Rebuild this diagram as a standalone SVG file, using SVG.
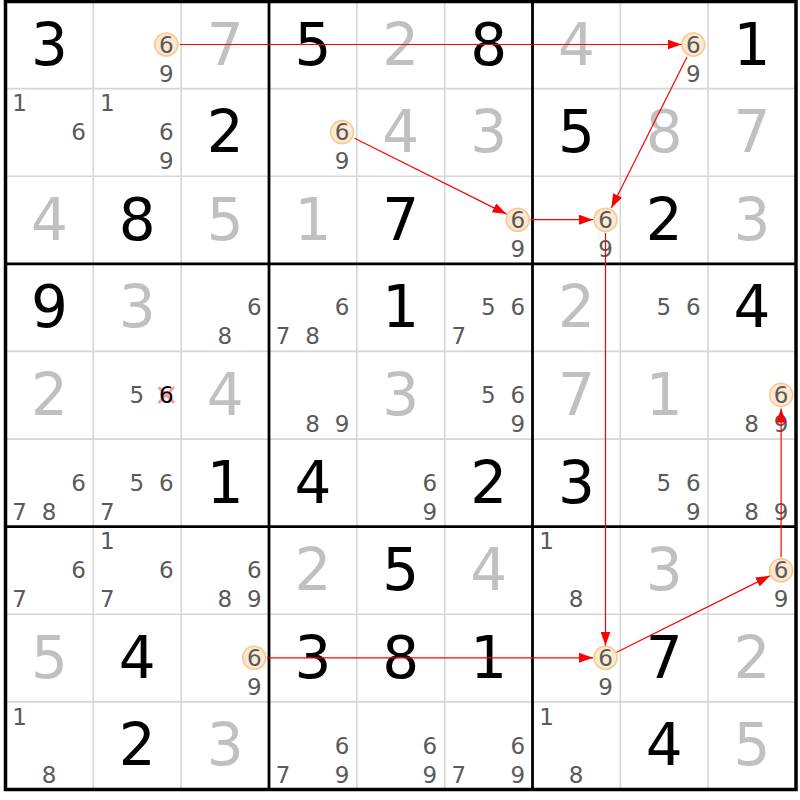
<svg xmlns="http://www.w3.org/2000/svg" width="800" height="800" viewBox="0 0 800 800">
<defs>
<style>
text{font-family:"DejaVu Sans","Liberation Sans",sans-serif;text-anchor:middle}
.g{font-size:58px;fill:#000}
.s{font-size:58px;fill:#c0c0c0}
.c{font-size:23px;fill:#5a5a5a}
.x{font-size:23px;fill:#000}
.hl{fill:#fde9cf;stroke:#f8c98e;stroke-width:1.6}
.thin{stroke:#d6d6d6;stroke-width:1.6}
.thick{stroke:#000;stroke-width:2.8}
.lk{stroke:#ff0000;stroke-width:1.2;fill:none;marker-end:url(#ah)}
.cross{stroke:#ff9aaa;stroke-width:3;stroke-linecap:round}
</style>
<marker id="ah" markerUnits="userSpaceOnUse" markerWidth="14" markerHeight="10" refX="14" refY="5" orient="auto">
<path d="M0,0 L14,5 L0,10 z" fill="#ff0000"/>
</marker>
</defs>
<rect x="0" y="0" width="800" height="800" fill="#fff"/>
<g id="grid">
<line class="thin" x1="93.3" y1="1" x2="93.3" y2="789.5"/>
<line class="thin" x1="181.2" y1="1" x2="181.2" y2="789.5"/>
<line class="thin" x1="356.8" y1="1" x2="356.8" y2="789.5"/>
<line class="thin" x1="444.7" y1="1" x2="444.7" y2="789.5"/>
<line class="thin" x1="620.3" y1="1" x2="620.3" y2="789.5"/>
<line class="thin" x1="708.1" y1="1" x2="708.1" y2="789.5"/>
<line class="thin" x1="5.5" y1="88.6" x2="796" y2="88.6"/>
<line class="thin" x1="5.5" y1="176.2" x2="796" y2="176.2"/>
<line class="thin" x1="5.5" y1="351.4" x2="796" y2="351.4"/>
<line class="thin" x1="5.5" y1="439.1" x2="796" y2="439.1"/>
<line class="thin" x1="5.5" y1="614.3" x2="796" y2="614.3"/>
<line class="thin" x1="5.5" y1="701.9" x2="796" y2="701.9"/>
<line class="thick" x1="269" y1="1" x2="269" y2="789.5"/>
<line class="thick" x1="532.5" y1="1" x2="532.5" y2="789.5"/>
<line class="thick" x1="5.5" y1="263.8" x2="796" y2="263.8"/>
<line class="thick" x1="5.5" y1="526.7" x2="796" y2="526.7"/>
<rect x="5.5" y="1.5" width="790.5" height="788" fill="none" stroke="#000" stroke-width="3.5"/>
</g>
<g id="r0">
<g id="r0c0"><text class="g" x="49.4" y="64.5">3</text></g>
<g id="r0c1"><circle class="hl" cx="166.3" cy="44.5" r="11.5"/><text class="c" x="166.3" y="52.6">6</text><text class="c" x="166.3" y="81.6">9</text></g>
<g id="r0c2"><text class="s" x="225.1" y="64.5">7</text></g>
<g id="r0c3"><text class="g" x="312.9" y="64.5">5</text></g>
<g id="r0c4"><text class="s" x="400.7" y="64.5">2</text></g>
<g id="r0c5"><text class="g" x="488.6" y="64.5">8</text></g>
<g id="r0c6"><text class="s" x="576.4" y="64.5">4</text></g>
<g id="r0c7"><circle class="hl" cx="693.3" cy="44.5" r="11.5"/><text class="c" x="693.3" y="52.6">6</text><text class="c" x="693.3" y="81.6">9</text></g>
<g id="r0c8"><text class="g" x="752" y="64.5">1</text></g>
</g>
<g id="r1">
<g id="r1c0"><text class="c" x="19.5" y="111.2">1</text><text class="c" x="78.5" y="140.2">6</text></g>
<g id="r1c1"><text class="c" x="107.3" y="111.2">1</text><text class="c" x="166.3" y="140.2">6</text><text class="c" x="166.3" y="169.2">9</text></g>
<g id="r1c2"><text class="g" x="225.1" y="152.1">2</text></g>
<g id="r1c3"><circle class="hl" cx="342" cy="132.1" r="11.5"/><text class="c" x="342" y="140.2">6</text><text class="c" x="342" y="169.2">9</text></g>
<g id="r1c4"><text class="s" x="400.7" y="152.1">4</text></g>
<g id="r1c5"><text class="s" x="488.6" y="152.1">3</text></g>
<g id="r1c6"><text class="g" x="576.4" y="152.1">5</text></g>
<g id="r1c7"><text class="s" x="664.2" y="152.1">8</text></g>
<g id="r1c8"><text class="s" x="752" y="152.1">7</text></g>
</g>
<g id="r2">
<g id="r2c0"><text class="s" x="49.4" y="239.7">4</text></g>
<g id="r2c1"><text class="g" x="137.2" y="239.7">8</text></g>
<g id="r2c2"><text class="s" x="225.1" y="239.7">5</text></g>
<g id="r2c3"><text class="s" x="312.9" y="239.7">1</text></g>
<g id="r2c4"><text class="g" x="400.7" y="239.7">7</text></g>
<g id="r2c5"><circle class="hl" cx="517.7" cy="219.7" r="11.5"/><text class="c" x="517.7" y="227.8">6</text><text class="c" x="517.7" y="256.8">9</text></g>
<g id="r2c6"><circle class="hl" cx="605.5" cy="219.7" r="11.5"/><text class="c" x="605.5" y="227.8">6</text><text class="c" x="605.5" y="256.8">9</text></g>
<g id="r2c7"><text class="g" x="664.2" y="239.7">2</text></g>
<g id="r2c8"><text class="s" x="752" y="239.7">3</text></g>
</g>
<g id="r3">
<g id="r3c0"><text class="g" x="49.4" y="327.3">9</text></g>
<g id="r3c1"><text class="s" x="137.2" y="327.3">3</text></g>
<g id="r3c2"><text class="c" x="254.2" y="315.4">6</text><text class="c" x="224.7" y="344.4">8</text></g>
<g id="r3c3"><text class="c" x="342" y="315.4">6</text><text class="c" x="283" y="344.4">7</text><text class="c" x="312.5" y="344.4">8</text></g>
<g id="r3c4"><text class="g" x="400.7" y="327.3">1</text></g>
<g id="r3c5"><text class="c" x="488.2" y="315.4">5</text><text class="c" x="517.7" y="315.4">6</text><text class="c" x="458.7" y="344.4">7</text></g>
<g id="r3c6"><text class="s" x="576.4" y="327.3">2</text></g>
<g id="r3c7"><text class="c" x="663.8" y="315.4">5</text><text class="c" x="693.3" y="315.4">6</text></g>
<g id="r3c8"><text class="g" x="752" y="327.3">4</text></g>
</g>
<g id="r4">
<g id="r4c0"><text class="s" x="49.4" y="414.9">2</text></g>
<g id="r4c1"><text class="c" x="136.8" y="403">5</text><line class="cross" x1="159.3" y1="388" x2="173.3" y2="402"/><line class="cross" x1="173.3" y1="388" x2="159.3" y2="402"/><text class="x" x="166.3" y="403">6</text></g>
<g id="r4c2"><text class="s" x="225.1" y="414.9">4</text></g>
<g id="r4c3"><text class="c" x="312.5" y="432">8</text><text class="c" x="342" y="432">9</text></g>
<g id="r4c4"><text class="s" x="400.7" y="414.9">3</text></g>
<g id="r4c5"><text class="c" x="488.2" y="403">5</text><text class="c" x="517.7" y="403">6</text><text class="c" x="517.7" y="432">9</text></g>
<g id="r4c6"><text class="s" x="576.4" y="414.9">7</text></g>
<g id="r4c7"><text class="s" x="664.2" y="414.9">1</text></g>
<g id="r4c8"><circle class="hl" cx="781.1" cy="394.9" r="11.5"/><text class="c" x="781.1" y="403">6</text><text class="c" x="751.6" y="432">8</text><text class="c" x="781.1" y="432">9</text></g>
</g>
<g id="r5">
<g id="r5c0"><text class="c" x="78.5" y="490.7">6</text><text class="c" x="19.5" y="519.7">7</text><text class="c" x="49" y="519.7">8</text></g>
<g id="r5c1"><text class="c" x="136.8" y="490.7">5</text><text class="c" x="166.3" y="490.7">6</text><text class="c" x="107.3" y="519.7">7</text></g>
<g id="r5c2"><text class="g" x="225.1" y="502.6">1</text></g>
<g id="r5c3"><text class="g" x="312.9" y="502.6">4</text></g>
<g id="r5c4"><text class="c" x="429.8" y="490.7">6</text><text class="c" x="429.8" y="519.7">9</text></g>
<g id="r5c5"><text class="g" x="488.6" y="502.6">2</text></g>
<g id="r5c6"><text class="g" x="576.4" y="502.6">3</text></g>
<g id="r5c7"><text class="c" x="663.8" y="490.7">5</text><text class="c" x="693.3" y="490.7">6</text><text class="c" x="693.3" y="519.7">9</text></g>
<g id="r5c8"><text class="c" x="751.6" y="519.7">8</text><text class="c" x="781.1" y="519.7">9</text></g>
</g>
<g id="r6">
<g id="r6c0"><text class="c" x="78.5" y="578.3">6</text><text class="c" x="19.5" y="607.3">7</text></g>
<g id="r6c1"><text class="c" x="107.3" y="549.3">1</text><text class="c" x="166.3" y="578.3">6</text><text class="c" x="107.3" y="607.3">7</text></g>
<g id="r6c2"><text class="c" x="254.2" y="578.3">6</text><text class="c" x="224.7" y="607.3">8</text><text class="c" x="254.2" y="607.3">9</text></g>
<g id="r6c3"><text class="s" x="312.9" y="590.2">2</text></g>
<g id="r6c4"><text class="g" x="400.7" y="590.2">5</text></g>
<g id="r6c5"><text class="s" x="488.6" y="590.2">4</text></g>
<g id="r6c6"><text class="c" x="546.5" y="549.3">1</text><text class="c" x="576" y="607.3">8</text></g>
<g id="r6c7"><text class="s" x="664.2" y="590.2">3</text></g>
<g id="r6c8"><circle class="hl" cx="781.1" cy="570.2" r="11.5"/><text class="c" x="781.1" y="578.3">6</text><text class="c" x="781.1" y="607.3">9</text></g>
</g>
<g id="r7">
<g id="r7c0"><text class="s" x="49.4" y="677.8">5</text></g>
<g id="r7c1"><text class="g" x="137.2" y="677.8">4</text></g>
<g id="r7c2"><circle class="hl" cx="254.2" cy="657.8" r="11.5"/><text class="c" x="254.2" y="665.9">6</text><text class="c" x="254.2" y="694.9">9</text></g>
<g id="r7c3"><text class="g" x="312.9" y="677.8">3</text></g>
<g id="r7c4"><text class="g" x="400.7" y="677.8">8</text></g>
<g id="r7c5"><text class="g" x="488.6" y="677.8">1</text></g>
<g id="r7c6"><circle class="hl" cx="605.5" cy="657.8" r="11.5"/><text class="c" x="605.5" y="665.9">6</text><text class="c" x="605.5" y="694.9">9</text></g>
<g id="r7c7"><text class="g" x="664.2" y="677.8">7</text></g>
<g id="r7c8"><text class="s" x="752" y="677.8">2</text></g>
</g>
<g id="r8">
<g id="r8c0"><text class="c" x="19.5" y="724.5">1</text><text class="c" x="49" y="782.5">8</text></g>
<g id="r8c1"><text class="g" x="137.2" y="765.4">2</text></g>
<g id="r8c2"><text class="s" x="225.1" y="765.4">3</text></g>
<g id="r8c3"><text class="c" x="342" y="753.5">6</text><text class="c" x="283" y="782.5">7</text><text class="c" x="342" y="782.5">9</text></g>
<g id="r8c4"><text class="c" x="429.8" y="753.5">6</text><text class="c" x="429.8" y="782.5">9</text></g>
<g id="r8c5"><text class="c" x="517.7" y="753.5">6</text><text class="c" x="458.7" y="782.5">7</text><text class="c" x="517.7" y="782.5">9</text></g>
<g id="r8c6"><text class="c" x="546.5" y="724.5">1</text><text class="c" x="576" y="782.5">8</text></g>
<g id="r8c7"><text class="g" x="664.2" y="765.4">4</text></g>
<g id="r8c8"><text class="s" x="752" y="765.4">5</text></g>
</g>
<g id="links">
<line class="lk" x1="180" y1="44.5" x2="681.5" y2="44.5"/>
<line class="lk" x1="687" y1="57" x2="611.3" y2="208"/>
<line class="lk" x1="354.5" y1="138.3" x2="506.5" y2="214.1"/>
<line class="lk" x1="530.5" y1="219.7" x2="593" y2="219.7"/>
<line class="lk" x1="605.5" y1="233" x2="605.5" y2="645.5"/>
<line class="lk" x1="267" y1="657.8" x2="593" y2="657.8"/>
<line class="lk" x1="616.7" y1="652.2" x2="770" y2="575.8"/>
<line class="lk" x1="781.1" y1="557" x2="781.1" y2="408.5"/>
</g>
</svg>
